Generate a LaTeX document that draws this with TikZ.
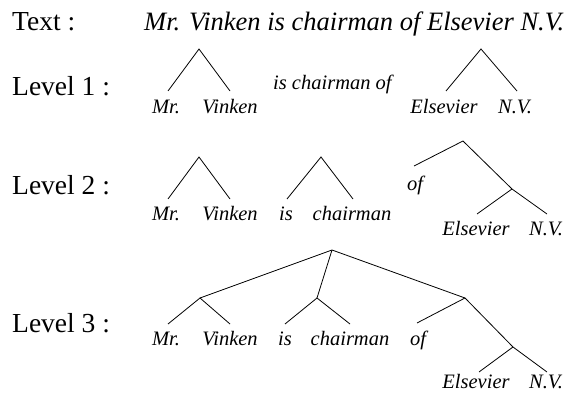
\documentclass[tikz,border=0pt]{standalone}
\usepackage{fontspec}
\setmainfont{LiberationSerif}[Extension=.ttf, UprightFont=*-Regular, ItalicFont=*-Italic, BoldFont=*-Bold, BoldItalicFont=*-BoldItalic]
\begin{document}
\begin{tikzpicture}[x=1pt,y=-1pt,
  lab/.style={font=\fontsize{27.5}{30}\selectfont, anchor=base west, inner sep=0pt},
  sent/.style={font=\fontsize{26.5}{30}\selectfont\itshape, anchor=base west, inner sep=0pt},
  word/.style={font=\fontsize{20.5}{23}\selectfont\itshape, anchor=base, inner sep=0pt},
  wordw/.style={font=\fontsize{20.5}{23}\selectfont\itshape, anchor=base west, inner sep=0pt},
  edge/.style={line width=0.8pt}]
\useasboundingbox (0,0) rectangle (566,396);

% Text line
\node[lab] (tlab) at (12,31) {Text :};
\node[sent] (tsent) at (144,31) {Mr. Vinken is chairman of Elsevier N.V.};

% Level 1
\node[lab] (l1) at (12,96) {Level 1 :};
\node[word] (a1) at (166,114) {Mr.};
\node[word] (b1) at (230,114) {Vinken};
\node[wordw] (c1) at (273,90) {is chairman of};
\node[word] (d1) at (444,114) {Elsevier};
\node[word] (e1) at (515,114) {N.V.};
\coordinate (p1) at (199,49);
\coordinate (p1a) at (168,91);
\coordinate (p1b) at (230,91);
\coordinate (q1) at (481,49);
\coordinate (q1a) at (446,91);
\coordinate (q1b) at (517,91);
\draw[edge] (p1a) -- (p1) -- (p1b);
\draw[edge] (q1a) -- (q1) -- (q1b);

% Level 2
\node[lab] (l2) at (12,194) {Level 2 :};
\node[word] (a2) at (166,220) {Mr.};
\node[word] (b2) at (230,220) {Vinken};
\node[word] (c2) at (286,220) {is};
\node[word] (d2) at (352,220) {chairman};
\node[wordw] (f2) at (407,190) {of};
\node[word] (g2) at (476,235) {Elsevier};
\node[word] (h2) at (546,235) {N.V.};
\coordinate (p2) at (199,157);
\coordinate (p2a) at (168,199);
\coordinate (p2b) at (230,199);
\coordinate (r2) at (321,157);
\coordinate (r2a) at (287,199);
\coordinate (r2b) at (353,199);
\coordinate (s2) at (463,141);
\coordinate (s2a) at (414,166);
\coordinate (t2) at (512,189);
\coordinate (t2a) at (477,214);
\coordinate (t2b) at (547,214);
\draw[edge] (p2a) -- (p2) -- (p2b);
\draw[edge] (r2a) -- (r2) -- (r2b);
\draw[edge] (s2a) -- (s2) -- (t2) -- (t2b);
\draw[edge] (t2) -- (t2a);

% Level 3
\node[lab] (l3) at (12,332) {Level 3 :};
\node[word] (a3) at (166,345) {Mr.};
\node[word] (b3) at (230,345) {Vinken};
\node[word] (c3) at (285,345) {is};
\node[word] (d3) at (350,345) {chairman};
\node[word] (f3) at (418,345) {of};
\node[word] (g3) at (476,388) {Elsevier};
\node[word] (h3) at (546,388) {N.V.};
\coordinate (root) at (332,250);
\coordinate (A) at (200,298);
\coordinate (Aa) at (168,324);
\coordinate (Ab) at (230,324);
\coordinate (B) at (317,298);
\coordinate (Ba) at (285,324);
\coordinate (Bb) at (350,324);
\coordinate (C) at (465,298);
\coordinate (Ca) at (417,323);
\coordinate (D) at (513,347);
\coordinate (Da) at (479,372);
\coordinate (Db) at (547,372);
\draw[edge] (root) -- (A);
\draw[edge] (root) -- (B);
\draw[edge] (root) -- (C);
\draw[edge] (Aa) -- (A) -- (Ab);
\draw[edge] (Ba) -- (B) -- (Bb);
\draw[edge] (Ca) -- (C) -- (D) -- (Db);
\draw[edge] (D) -- (Da);
\end{tikzpicture}
\end{document}
